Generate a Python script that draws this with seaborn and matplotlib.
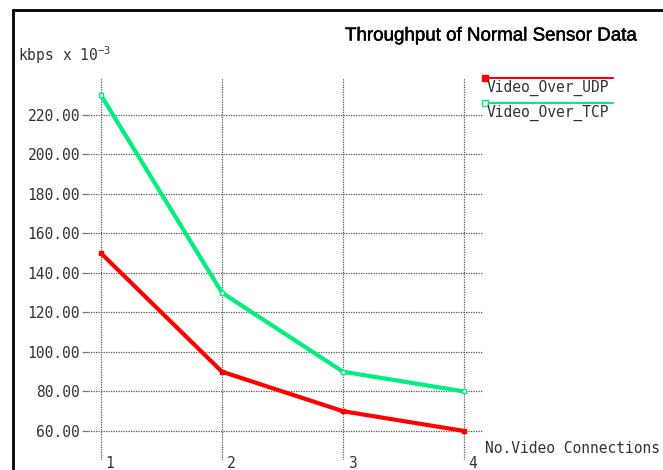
import pandas as pd
import seaborn as sns
import matplotlib.pyplot as plt
import matplotlib.transforms as mtransforms
import matplotlib.patheffects as pe
from matplotlib.lines import Line2D

# Datos
conexiones = [1, 2, 3, 4]
udp_vals = [150, 90, 70, 60]
tcp_vals = [230, 130, 90, 80]
series = ["Video_Over_UDP", "Video_Over_TCP"]
colores = {"Video_Over_UDP": "#ff0000", "Video_Over_TCP": "#00f080"}
y_ticks = [60, 80, 100, 120, 140, 160, 180, 200, 220]

df = pd.DataFrame({
    "conn": conexiones * 2,
    "kbps": udp_vals + tcp_vals,
    "serie": [series[0]] * 4 + [series[1]] * 4,
})

sns.set_theme(style="white")
plt.rcParams["font.family"] = ["DejaVu Sans Mono"]
plt.rcParams["mathtext.fontset"] = "custom"
plt.rcParams["mathtext.rm"] = "DejaVu Sans Mono"

fig = plt.figure(figsize=(6.63, 4.70), dpi=100)
ax = fig.add_axes([88 / 663, 10 / 470, 395 / 663, 382 / 470])

sns.lineplot(data=df, x="conn", y="kbps", hue="serie", palette=colores,
             linewidth=3, legend=False, ax=ax, zorder=3)

# marcadores pequeños en los puntos
for serie, m_face in [("Video_Over_UDP", "#ff0000"), ("Video_Over_TCP", "white")]:
    sub = df[df["serie"] == serie]
    sns.scatterplot(data=sub, x="conn", y="kbps", marker="s", s=12,
                    color=m_face, edgecolor=colores[serie], linewidth=1,
                    ax=ax, zorder=4, legend=False)

ax.set_xlim(0.893, 4.157)
ax.set_ylim(45.3, 238.7)
ax.set_xticks(conexiones)
ax.set_xticklabels([str(c) for c in conexiones])
ax.set_yticks(y_ticks)
ax.set_yticklabels([f"{v:.2f}" for v in y_ticks])

ax.grid(True, color="#555555", linestyle=(0, (1, 1)), linewidth=0.9)
for s in ax.spines.values():
    s.set_visible(False)

ax.tick_params(axis="y", length=4.3, width=0.9, color="#777777", pad=1.5,
               labelsize=10.5, labelcolor="#333333", left=True)
ax.tick_params(axis="x", length=0, pad=-3, labelsize=10.5, labelcolor="#333333")
shift = mtransforms.ScaledTranslation(9 / 100, 0, fig.dpi_scale_trans)
for lab in ax.get_xticklabels():
    lab.set_transform(lab.get_transform() + shift)
    lab.set_verticalalignment("top")

ax.set_xlabel("No.Video Connections", fontsize=10.5, color="#333333",
              ha="left", va="center")
ax.xaxis.set_label_coords(1.005, 0.031)
ax.set_ylabel("kbps x 10$^{\\mathregular{-3}}$", fontsize=10.5, color="#333333",
              rotation=0, ha="left", va="center")
ax.yaxis.set_label_coords(-0.177, 1.06)

titulo = fig.text(345 / 663, 1 - 36 / 470, "Throughput of Normal Sensor Data",
                  family=["Liberation Sans", "DejaVu Sans"],
                  fontsize=13.5, color="black", ha="left", va="center")
titulo.set_path_effects([pe.withStroke(linewidth=0.35, foreground="black")])

# leyenda: linea encima del texto
for serie, y_line, y_txt, face in [("Video_Over_UDP", 1.0, 0.974, "#ff0000"),
                                   ("Video_Over_TCP", 0.935, 0.908, "white")]:
    ax.add_line(Line2D([1.005, 1.329], [y_line, y_line], transform=ax.transAxes,
                       color=colores[serie], linewidth=1.5, clip_on=False))
    ax.add_line(Line2D([1.005], [y_line], transform=ax.transAxes, marker="s",
                       markersize=4, markerfacecolor=face,
                       markeredgecolor=colores[serie], clip_on=False))
    ax.text(1.01, y_txt, serie, transform=ax.transAxes, fontsize=10.5,
            color="#333333", ha="left", va="center")

# marco de la figura
fig.add_artist(Line2D([13 / 663, 13 / 663], [0, 1 - 10 / 470],
                      transform=fig.transFigure, color="black", linewidth=2))
fig.add_artist(Line2D([13 / 663, 1], [1 - 10 / 470, 1 - 10 / 470],
                      transform=fig.transFigure, color="black", linewidth=2))

fig.savefig("out.png", dpi=100)
